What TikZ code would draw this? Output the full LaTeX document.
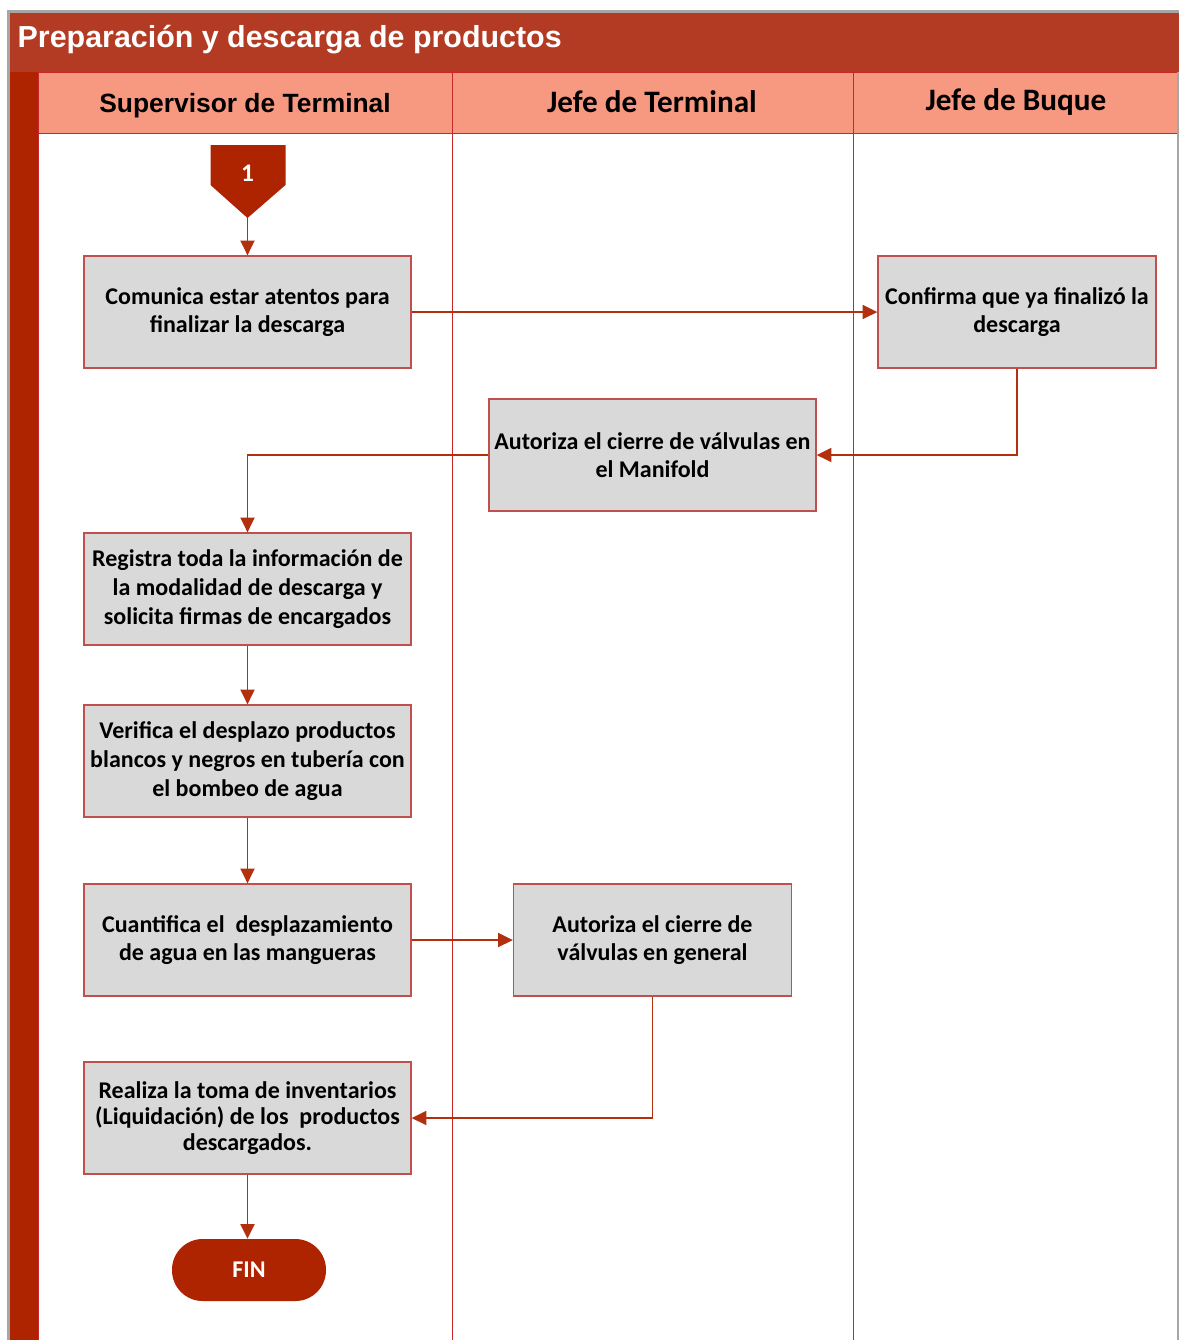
\documentclass[tikz,border=0pt]{standalone}
\usepackage{fontspec}
\setmainfont{Liberation Sans}
\newfontfamily\calfont{Carlito}
\usetikzlibrary{arrows.meta,positioning}
\definecolor{titlered}{HTML}{B33B24}
\definecolor{darkred}{HTML}{AE2300}
\definecolor{salmon}{HTML}{F79880}
\definecolor{boxgray}{HTML}{D9D9D9}
\definecolor{boxedge}{HTML}{C0504D}
\definecolor{arrowred}{HTML}{B3300E}
\definecolor{laneline}{HTML}{C8282A}
\tikzset{
  proc/.style={draw=boxedge, line width=1pt, fill=boxgray, minimum width=327*0.75pt, minimum height=112*0.75pt, align=center, font=\calfont\bfseries\fontsize{18}{21.5}\selectfont, inner sep=2pt},
  flow/.style={draw=arrowred, line width=1.4pt, -{Triangle[length=11pt,width=10.5pt]}},
  lane/.style={draw=laneline, line width=0.6pt},
}
\begin{document}
\begin{tikzpicture}[x=0.75pt,y=-0.75pt]
\useasboundingbox (0,0) rectangle (1179,1340);
\fill[white] (0,0) rectangle (1179,1340);
% outer frame
\fill[gray!70] (7,10) rectangle (1179,13);
\fill[gray!70] (7,10) rectangle (10,1340);
\draw[gray!70, line width=1.5pt] (1177.5,72) -- (1177.5,1340);
% title bar
\fill[titlered] (10,13) rectangle (1179,72);
\node[anchor=west, text=white, font=\bfseries\fontsize{22.8}{26}\selectfont] (title) at (13,40) {Preparación y descarga de productos};
% left stripe
\fill[darkred] (10,72) rectangle (38,1340);
% header row
\fill[salmon] (38,72) rectangle (1177,133);
\draw[lane] (38,72) -- (1177,72);
\draw[lane] (38,133) -- (1177,133);
\draw[lane] (38,72) -- (38,1340);
\draw[lane] (452,72) -- (452,1340);
\draw[lane] (853,72) -- (853,1340);
\node[font=\bfseries\fontsize{19.8}{22}\selectfont] (h1) at (245,106) {Supervisor de Terminal};
\node[font=\calfont\bfseries\fontsize{23.4}{26}\selectfont] (h2) at (652,102) {Jefe de Terminal};
\node[font=\calfont\bfseries\fontsize{23.4}{26}\selectfont] (h3) at (1016,102) {Jefe de Buque};
% off-page connector
\fill[darkred] (210.5,145) -- (285.5,145) -- (285.5,185) -- (247.5,218) -- (210.5,185) -- cycle;
\node[text=white, font=\calfont\bfseries\fontsize{19}{21}\selectfont] (c1) at (247.5,173) {1};
\coordinate (c1tip) at (247.5,218);
% process boxes
\node[proc] (b1) at (247.5,312) {Comunica estar atentos para\\finalizar la descarga};
\node[proc, minimum width=278*0.75pt] (b2) at (1017,312) {Confirma que ya finalizó la\\descarga};
\node[proc] (b3) at (652.5,455) {Autoriza el cierre de válvulas en\\el Manifold};
\node[proc] (b4) at (247.5,589) {Registra toda la información de\\la modalidad de descarga y\\solicita firmas de encargados};
\node[proc] (b5) at (247.5,761) {Verifica el desplazo productos\\blancos y negros en tubería con\\el bombeo de agua};
\node[proc] (b6) at (247.5,940) {Cuantifica el\ \ desplazamiento\\de agua en las mangueras};
\node[proc, minimum width=278*0.75pt] (b7) at (652.5,940) {Autoriza el cierre de\\válvulas en general};
\node[proc, font=\calfont\bfseries\fontsize{18}{19.5}\selectfont] (b8) at (247.5,1118) {Realiza la toma de inventarios\\(Liquidación) de los\ \ productos\\descargados.};
\node[fill=darkred, rounded corners=23pt, minimum width=154*0.75pt, minimum height=62*0.75pt, text=white, font=\calfont\bfseries\fontsize{18}{20}\selectfont] (fin) at (249,1270) {FIN};
% connectors
\draw[flow] (c1tip) -- (b1.north);
\draw[flow] (b1.east) -- (b2.west);
\draw[flow] (b2.south) |- (b3.east);
\draw[flow] (b3.west) -| (b4.north);
\draw[flow] (b4) -- (b5);
\draw[flow] (b5) -- (b6);
\draw[flow] (b6) -- (b7);
\draw[flow] (b7.south) |- (b8.east);
\draw[flow] (b8.south) -- (b8.south |- fin.north);
\end{tikzpicture}
\end{document}
